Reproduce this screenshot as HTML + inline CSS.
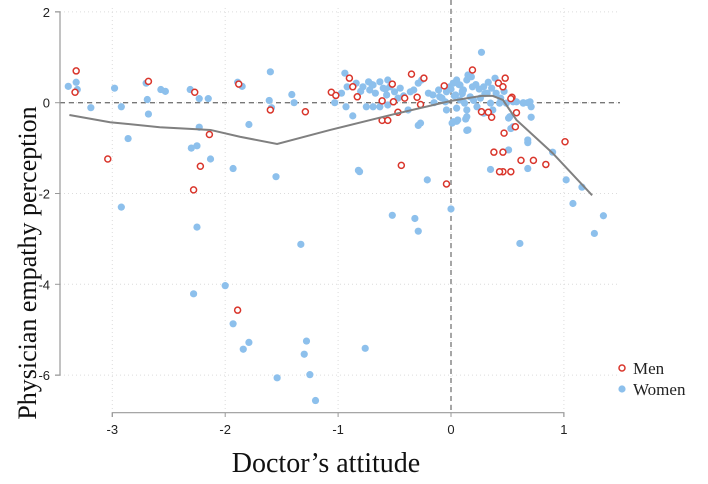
<!DOCTYPE html>
<html><head><meta charset="utf-8"><style>
html,body{margin:0;padding:0;background:#fff;width:708px;height:484px;overflow:hidden}
svg{display:block}
</style></head><body>
<svg id="chart" width="708" height="484"></svg>
<script>
const xTicks=[-3,-2,-1,0,1];
const yTicks=[2,0,-2,-4,-6];
const menX=[-3.32,-3.33,-3.04,-2.68,-2.27,-2.14,-2.22,-2.28,-1.88,-1.60,-1.29,-1.06,-1.02,-0.90,-0.87,-0.83,-0.52,-0.35,-0.24,-0.61,-0.51,-0.41,-0.30,-0.27,-0.47,-0.61,-0.56,-0.44,-0.04,-0.06,0.19,0.42,0.46,0.54,0.27,0.33,0.36,0.58,0.57,0.47,0.53,0.46,0.38,0.46,0.62,0.73,0.84,0.43,0.53,1.01,-1.89,0.48];
const menY=[0.70,0.23,-1.24,0.47,0.23,-0.70,-1.40,-1.92,0.41,-0.16,-0.20,0.23,0.16,0.54,0.35,0.13,0.41,0.63,0.54,0.04,0.02,0.10,0.12,-0.04,-0.21,-0.39,-0.39,-1.38,-1.79,0.37,0.72,0.43,0.35,0.12,-0.20,-0.21,-0.32,-0.22,-0.53,-0.67,0.09,-1.09,-1.09,-1.52,-1.27,-1.27,-1.36,-1.52,-1.52,-0.86,-4.57,0.54];
const womenX=[-3.39,-3.32,-3.31,-3.19,-2.98,-2.92,-2.86,-2.92,-2.70,-2.69,-2.68,-2.57,-2.53,-2.31,-2.23,-2.15,-2.23,-2.30,-2.25,-2.13,-2.25,-1.93,-1.89,-1.85,-1.79,-1.60,-1.61,-1.59,-1.55,-1.41,-1.39,-1.03,-0.82,
-1.93,-1.79,-1.84,-1.28,-1.30,-0.76,-1.54,-1.25,-1.20,-1.33,-2.28,-2.00,-0.52,-0.32,-0.29,0,0.61,1.08,1.27,1.35,
0.27,-0.81,-0.29,-0.21,0.14,0.01,0.05,0.13,0.51,0.53,0.51,0.68,0.71,0.35,0.68,0.90,1.02,1.16,0.58,0.64,0.68,
-0.94,-0.92,-0.97,-0.93,-0.87,-0.84,-0.78,-0.73,-0.72,-0.69,-0.67,-0.63,-0.60,-0.57,-0.54,-0.56,-0.50,-0.47,-0.45,-0.75,-0.69,-0.63,-0.56,-0.36,-0.33,-0.29,-0.26,-0.27,-0.38,-0.20,-0.16,-0.11,-0.10,-0.05,-0.04,-0.01,0.02,0.05,0.08,0.11,0.14,0.15,0.18,0.04,0.08,0.12,0.17,-0.04,0.05,0.14,0.02,0.06,0.15,0.14,0.23,0.29,0.32,0.36,0.39,0.40,0.35,0.37,0.29,0.43,0.49,0.55,0.64,0.70,0.71,0.52,0.55,0.68,
0.00,0.03,0.07,0.10,0.20,0.25,0.30,0.33,-0.15,-0.08,0.22,0.26,0.44,0.47,-0.42,-0.58,-0.70,-0.80,0.10,0.19];
const womenY=[0.36,0.45,0.29,-0.11,0.32,-0.09,-0.79,-2.30,0.43,0.07,-0.25,0.29,0.25,0.29,0.09,0.09,-0.54,-1.0,-0.95,-1.24,-2.74,-1.45,0.45,0.36,-0.48,0.68,0.05,-0.11,-1.63,0.18,0.0,0.0,-1.49,
-4.87,-5.28,-5.43,-5.25,-5.54,-5.41,-6.06,-5.99,-6.56,-3.12,-4.21,-4.03,-2.48,-2.55,-2.83,-2.34,-3.10,-2.22,-2.88,-2.49,
1.11,-1.52,-0.50,-1.70,-0.61,-0.45,-0.41,-0.36,-0.34,-0.57,-1.04,-0.88,-0.32,-1.47,-1.45,-1.09,-1.70,-1.86,0.02,0.0,0.0,
0.65,0.35,0.21,-0.09,-0.29,0.43,0.35,0.46,0.28,0.39,0.21,0.46,0.32,0.17,0.35,0.50,0.24,0.10,0.32,-0.09,-0.09,-0.09,-0.05,0.24,0.28,0.43,0.50,-0.45,-0.16,0.21,0.17,0.28,0.13,0.02,0.24,0.35,0.43,0.50,0.39,0.28,0.50,0.61,0.57,0.17,0.06,-0.01,0.13,-0.16,-0.12,-0.16,-0.42,-0.38,-0.60,-0.31,-0.09,0.35,0.21,0.32,0.54,0.21,-0.01,-0.16,-0.23,-0.01,-0.01,0.02,-0.01,0.02,-0.09,-0.31,-0.53,-0.82,
0.30,0.15,0.40,0.25,0.05,0.30,0.20,0.45,0.00,0.10,0.40,0.10,0.10,0.25,0.15,0.30,0.40,0.25,0.20,0.35];
const fitX=[-3.38,-3.02,-2.58,-2.13,-1.87,-1.54,-1.07,-0.5,0,0.27,0.37,0.46,0.58,0.9,1.25];
const fitY=[-0.27,-0.43,-0.54,-0.60,-0.75,-0.91,-0.6,-0.25,0.04,0.15,0.15,0.06,-0.38,-1.11,-2.04];

const NS='http://www.w3.org/2000/svg';
const svg=document.getElementById('chart');
const sx=v=>451+v*112.9;
const sy=v=>102.7-v*45.4;
function mk(tag,attrs,parent){const e=document.createElementNS(NS,tag);for(const k in attrs)e.setAttribute(k,attrs[k]);(parent||svg).appendChild(e);return e;}

// gridlines
xTicks.forEach(t=>{const g=mk('line',{x1:sx(t),x2:sx(t),y1:8,y2:412,stroke:'#dcdcdc','stroke-width':1,'stroke-dasharray':'1,3'});

});
yTicks.forEach(t=>{const g=mk('line',{x1:60,x2:620,y1:sy(t),y2:sy(t),stroke:'#dcdcdc','stroke-width':1,'stroke-dasharray':'1,3'});

});

// reference lines
const h0=mk('line',{x1:60,x2:620,y1:sy(0),y2:sy(0),stroke:'#777','stroke-width':1.3,'stroke-dasharray':'5,4'});


const v0=mk('line',{x1:sx(0),x2:sx(0),y1:0,y2:412,stroke:'#777','stroke-width':1.3,'stroke-dasharray':'5,4'});



// axes
const ya=mk('path',{d:`M55,${sy(2)}H60V${sy(-6)}H55`,fill:'none',stroke:'#999','stroke-width':1.2});


yTicks.forEach(t=>{mk('line',{x1:55,x2:60,y1:sy(t),y2:sy(t),stroke:'#999'});
const tx=mk('text',{x:50,y:sy(t)+5,'text-anchor':'end','font-family':'Liberation Sans, sans-serif','font-size':13,fill:'#222'});tx.textContent=t;

});
const xa=mk('path',{d:`M${sx(-3)},417V412.7H${sx(1)}V417`,fill:'none',stroke:'#999','stroke-width':1.2});


xTicks.forEach(t=>{mk('line',{x1:sx(t),x2:sx(t),y1:412.7,y2:417,stroke:'#999'});
const tx=mk('text',{x:sx(t),y:434,'text-anchor':'middle','font-family':'Liberation Sans, sans-serif','font-size':13,fill:'#222'});tx.textContent=t;

});

// points
womenX.forEach((x,i)=>{const c=mk('circle',{cx:sx(x),cy:sy(womenY[i]),r:3.6,fill:'#8dc0ec'});

});
menX.forEach((x,i)=>{const c=mk('circle',{cx:sx(x),cy:sy(menY[i]),r:3,fill:'#fff',stroke:'#d9352b','stroke-width':1.5});

});

// fit line
const fl=mk('polyline',{points:fitX.map((x,i)=>sx(x)+','+sy(fitY[i])).join(' '),fill:'none',stroke:'#808080','stroke-width':2});



// titles
const yt=mk('text',{x:0,y:0,transform:'translate(36,263) rotate(-90)','text-anchor':'middle','font-family':'Liberation Serif, serif','font-size':26,fill:'#111'});
yt.textContent='Physician empathy perception';


const xt=mk('text',{x:326,y:472,'text-anchor':'middle','font-family':'Liberation Serif, serif','font-size':28,fill:'#111'});
xt.textContent='Doctor\u2019s attitude';



// legend
const lg=mk('g',{});


const lm=mk('circle',{cx:622,cy:368,r:3,fill:'#fff',stroke:'#d9352b','stroke-width':1.5},lg);


const lmt=mk('text',{x:633,y:374,'font-family':'Liberation Serif, serif','font-size':17,fill:'#222'},lg);lmt.textContent='Men';


const lw=mk('circle',{cx:622,cy:389,r:3.6,fill:'#8dc0ec'},lg);


const lwt=mk('text',{x:633,y:395,'font-family':'Liberation Serif, serif','font-size':17,fill:'#222'},lg);lwt.textContent='Women';


</script>
</body></html>
